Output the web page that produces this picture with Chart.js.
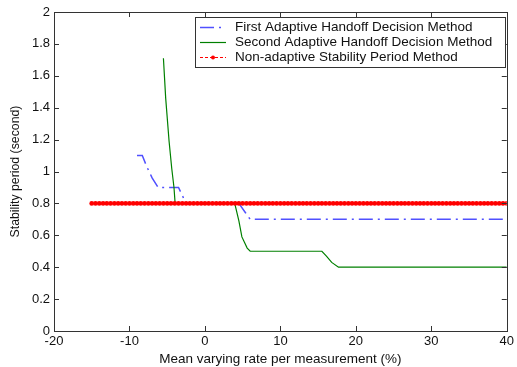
<!DOCTYPE html>
<html>
<head>
<meta charset="utf-8">
<script src="https://cdn.jsdelivr.net/npm/chart.js@4"></script>
<style>
    html, body { margin: 0; padding: 0; background: #fff; }
    #wrap { width: 517px; height: 367px; }
</style>
</head>
<body>
<div id="wrap"><canvas id="stabilityChart"></canvas></div>
<script>
'use strict';

// ============================================================================
// Data
// ============================================================================

const seriesNames = [
    'First Adaptive Handoff Decision Method',
    'Second Adaptive Handoff Decision Method',
    'Non-adaptive Stability Period Method'
];

const firstX = [-9, -8.3, -7.7, -7, -6.2, -3.5, -2.5, 4.5, 5.4, 6, 40];
const firstY = [1.1, 1.1, 1.03, 0.96, 0.9, 0.9, 0.8, 0.8, 0.74, 0.7, 0.7];

const secondX = [-5.5, -5.2, -4.75, -4.4, -4.1, -3.95, 3.95, 4.5, 4.9, 5.6, 6, 15.5, 16.1, 16.8, 17.7, 40];
const secondY = [1.71, 1.46, 1.19, 1.02, 0.9, 0.8, 0.8, 0.69, 0.59, 0.52, 0.5, 0.5, 0.47, 0.43, 0.4, 0.4];

const thirdX = [
    -15, -14.5, -14, -13.5, -13, -12.5, -12, -11.5, -11, -10.5,
    -10, -9.5, -9, -8.5, -8, -7.5, -7, -6.5, -6, -5.5,
    -5, -4.5, -4, -3.5, -3, -2.5, -2, -1.5, -1, -0.5,
    0, 0.5, 1, 1.5, 2, 2.5, 3, 3.5, 4, 4.5,
    5, 5.5, 6, 6.5, 7, 7.5, 8, 8.5, 9, 9.5,
    10, 10.5, 11, 11.5, 12, 12.5, 13, 13.5, 14, 14.5,
    15, 15.5, 16, 16.5, 17, 17.5, 18, 18.5, 19, 19.5,
    20, 20.5, 21, 21.5, 22, 22.5, 23, 23.5, 24, 24.5,
    25, 25.5, 26, 26.5, 27, 27.5, 28, 28.5, 29, 29.5,
    30, 30.5, 31, 31.5, 32, 32.5, 33, 33.5, 34, 34.5,
    35, 35.5, 36, 36.5, 37, 37.5, 38, 38.5, 39, 39.5, 40
];
const thirdLevel = 0.8;

const xTicks = [-20, -10, 0, 10, 20, 30, 40];
const yTicks = [0, 0.2, 0.4, 0.6, 0.8, 1, 1.2, 1.4, 1.6, 1.8, 2];

// ============================================================================
// Styling
// ============================================================================

const colors = {
    first: 'rgb(80,80,255)',
    second: '#008000',
    third: '#ff0000',
    axis: '#333',
    text: '#111'
};

const FONT = "'Liberation Sans', Arial, sans-serif";

function toPoints(xs, ys) {
    return xs.map((x, i) => ({ x: x, y: ys[i] }));
}

// ============================================================================
// Plugins
// ============================================================================

// MATLAB-like box with inward ticks on all four sides
const boxPlugin = {
    id: 'boxTicks',
    afterDatasetsDraw(chart) {
        const { ctx, chartArea: a, scales } = chart;
        const len = 5;
        ctx.save();
        ctx.strokeStyle = colors.axis;
        ctx.lineWidth = 1;
        ctx.beginPath();
        xTicks.forEach(v => {
            const px = Math.round(scales.x.getPixelForValue(v)) + 0.5;
            ctx.moveTo(px, a.bottom); ctx.lineTo(px, a.bottom - len);
            ctx.moveTo(px, a.top); ctx.lineTo(px, a.top + len);
        });
        yTicks.forEach(v => {
            const py = Math.round(scales.y.getPixelForValue(v)) + 0.5;
            ctx.moveTo(a.left, py); ctx.lineTo(a.left + len, py);
            ctx.moveTo(a.right, py); ctx.lineTo(a.right - len, py);
        });
        ctx.stroke();
        ctx.strokeRect(Math.round(a.left) + 0.5, Math.round(a.top) + 0.5,
            Math.round(a.right - a.left), Math.round(a.bottom - a.top));
        ctx.restore();
    }
};

// Legend box in the upper right of the plot
const legendPlugin = {
    id: 'boxLegend',
    afterDraw(chart) {
        const { ctx } = chart;
        const box = { x: 195.5, y: 17.5, w: 310, h: 50 };
        const rows = [27, 42, 57];
        ctx.save();
        ctx.fillStyle = '#fff';
        ctx.fillRect(box.x, box.y, box.w, box.h);
        ctx.strokeStyle = colors.axis;
        ctx.lineWidth = 1;
        ctx.strokeRect(box.x, box.y, box.w, box.h);

        const x0 = 200, x1 = 226;
        chart.data.datasets.forEach((ds, i) => {
            const y = rows[i] + 0.5;
            ctx.strokeStyle = ds.borderColor;
            ctx.lineWidth = ds.borderWidth;
            ctx.setLineDash(ds.borderDash || []);
            ctx.beginPath();
            ctx.moveTo(x0, y);
            ctx.lineTo(x1, y);
            ctx.stroke();
            ctx.setLineDash([]);
            if (ds.pointRadius > 0) {
                ctx.fillStyle = ds.pointBackgroundColor;
                ctx.beginPath();
                ctx.arc((x0 + x1) / 2, y, 2, 0, Math.PI * 2);
                ctx.fill();
            }
            ctx.fillStyle = colors.text;
            ctx.font = '13.5px ' + FONT;
            ctx.textBaseline = 'middle';
            ctx.fillText(ds.label, 235, y);
        });
        ctx.restore();
    }
};

// ============================================================================
// Chart
// ============================================================================

function createStabilityChart(canvasId) {
    const canvas = document.getElementById(canvasId);
    if (!canvas || typeof Chart === 'undefined') return null;

    return new Chart(canvas, {
        type: 'line',
        data: {
            datasets: [
                {
                    label: seriesNames[0],
                    data: toPoints(firstX, firstY),
                    borderColor: colors.first,
                    borderWidth: 1.5,
                    borderDash: [14, 5, 2, 5],
                    pointRadius: 0,
                    tension: 0,
                    order: 2
                },
                {
                    label: seriesNames[1],
                    data: toPoints(secondX, secondY),
                    borderColor: colors.second,
                    borderWidth: 1.2,
                    pointRadius: 0,
                    tension: 0,
                    order: 1
                },
                {
                    label: seriesNames[2],
                    data: thirdX.map(x => ({ x: x, y: thirdLevel })),
                    borderColor: colors.third,
                    borderWidth: 1,
                    borderDash: [3, 2],
                    pointRadius: 2.4,
                    pointBorderWidth: 0,
                    pointBackgroundColor: colors.third,
                    tension: 0,
                    order: 0
                }
            ]
        },
        options: {
            responsive: true,
            maintainAspectRatio: false,
            animation: false,
            layout: { padding: { top: 12, right: 7, left: 0, bottom: 0 } },
            plugins: {
                legend: { display: false },
                tooltip: { enabled: false }
            },
            scales: {
                x: {
                    type: 'linear',
                    min: -20,
                    max: 40,
                    afterBuildTicks: s => { s.ticks = xTicks.map(v => ({ value: v })); },
                    afterFit: s => { s.height = 36; },
                    grid: { display: false, drawTicks: false },
                    border: { display: false },
                    ticks: {
                        color: colors.text,
                        padding: 3,
                        maxRotation: 0,
                        font: { family: FONT, size: 13 },
                        callback: v => String(v)
                    },
                    title: {
                        display: true,
                        text: 'Mean varying rate per measurement (%)',
                        color: colors.text,
                        padding: { top: 0, bottom: 0 },
                        font: { family: FONT, size: 13.5 }
                    }
                },
                y: {
                    type: 'linear',
                    min: 0,
                    max: 2,
                    afterBuildTicks: s => { s.ticks = yTicks.map(v => ({ value: v })); },
                    afterFit: s => { s.width = 54; },
                    grid: { display: false, drawTicks: false },
                    border: { display: false },
                    ticks: {
                        color: colors.text,
                        padding: 4,
                        font: { family: FONT, size: 13 },
                        callback: v => String(v)
                    },
                    title: {
                        display: true,
                        text: 'Stability period (second)',
                        color: colors.text,
                        padding: { top: 8, bottom: 0 },
                        font: { family: FONT, size: 12.3 }
                    }
                }
            }
        },
        plugins: [boxPlugin, legendPlugin]
    });
}

window.stabilityChart = createStabilityChart('stabilityChart');
</script>
</body>
</html>
